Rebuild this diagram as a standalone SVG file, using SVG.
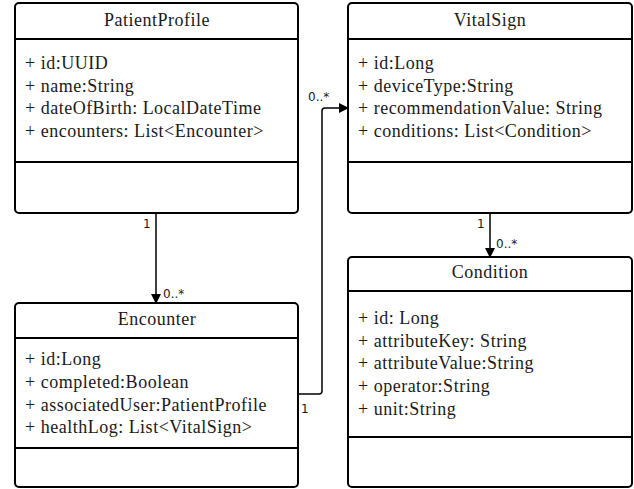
<svg xmlns="http://www.w3.org/2000/svg" width="634" height="489" viewBox="0 0 634 489">
<defs>
<style>
.box{fill:#fff;stroke:#000;stroke-width:2}
.div{stroke:#000;stroke-width:2}
.t{font-family:"Liberation Serif","Times New Roman",serif;font-size:18px;letter-spacing:0.5px;fill:#1a1a1a}
.title{text-anchor:middle}
.lbl{font-family:"DejaVu Sans","Liberation Sans",sans-serif;font-size:12px;fill:#1a1a1a}
.con{fill:none;stroke:#000;stroke-width:1.5}
</style>
<marker id="arr" markerWidth="10" markerHeight="10" refX="9" refY="5" orient="auto" markerUnits="userSpaceOnUse">
<path d="M0,0 L10,5 L0,10 Z" fill="#000"/>
</marker>
</defs>
<rect width="634" height="489" fill="#fff"/>
<g id="PatientProfile">
<rect class="box" x="15" y="3" width="283" height="210" rx="4"/>
<line class="div" x1="15" y1="39" x2="298" y2="39"/>
<line class="div" x1="15" y1="162" x2="298" y2="162"/>
<text class="t title" x="157" y="26">PatientProfile</text>
<text class="t" x="25" y="69">+ id:UUID</text>
<text class="t" x="25" y="92">+ name:String</text>
<text class="t" x="25" y="114">+ dateOfBirth: LocalDateTime</text>
<text class="t" x="25" y="137">+ encounters: List&lt;Encounter&gt;</text>
</g>
<g id="VitalSign">
<rect class="box" x="348" y="3" width="284" height="210" rx="4"/>
<line class="div" x1="348" y1="39" x2="632" y2="39"/>
<line class="div" x1="348" y1="162" x2="632" y2="162"/>
<text class="t title" x="490" y="26">VitalSign</text>
<text class="t" x="358" y="69">+ id:Long</text>
<text class="t" x="358" y="92">+ deviceType:String</text>
<text class="t" x="358" y="114">+ recommendationValue: String</text>
<text class="t" x="358" y="137">+ conditions: List&lt;Condition&gt;</text>
</g>
<g id="Encounter">
<rect class="box" x="15" y="303" width="283" height="184" rx="4"/>
<line class="div" x1="15" y1="338" x2="298" y2="338"/>
<line class="div" x1="15" y1="448" x2="298" y2="448"/>
<text class="t title" x="157" y="325">Encounter</text>
<text class="t" x="25" y="365">+ id:Long</text>
<text class="t" x="25" y="388">+ completed:Boolean</text>
<text class="t" x="25" y="411">+ associatedUser:PatientProfile</text>
<text class="t" x="25" y="433">+ healthLog: List&lt;VitalSign&gt;</text>
</g>
<g id="Condition">
<rect class="box" x="348" y="257" width="284" height="230" rx="4"/>
<line class="div" x1="348" y1="291" x2="632" y2="291"/>
<line class="div" x1="348" y1="437" x2="632" y2="437"/>
<text class="t title" x="490" y="278">Condition</text>
<text class="t" x="358" y="324">+ id: Long</text>
<text class="t" x="358" y="347">+ attributeKey: String</text>
<text class="t" x="358" y="369">+ attributeValue:String</text>
<text class="t" x="358" y="392">+ operator:String</text>
<text class="t" x="358" y="415">+ unit:String</text>
</g>
<g id="connectors">
<path class="con" d="M156,213 L156,303" marker-end="url(#arr)"/>
<path class="con" d="M298,394 L319,394 Q322,394 322,391 L322,111 Q322,108 325,108 L348,108" marker-end="url(#arr)"/>
<path class="con" d="M490,213 L490,257" marker-end="url(#arr)"/>
<text class="lbl" x="143" y="228">1</text>
<text class="lbl" x="163" y="298">0..*</text>
<text class="lbl" x="301" y="413">1</text>
<text class="lbl" x="308" y="101">0..*</text>
<text class="lbl" x="477" y="228">1</text>
<text class="lbl" x="496" y="248">0..*</text>
</g>
</svg>
